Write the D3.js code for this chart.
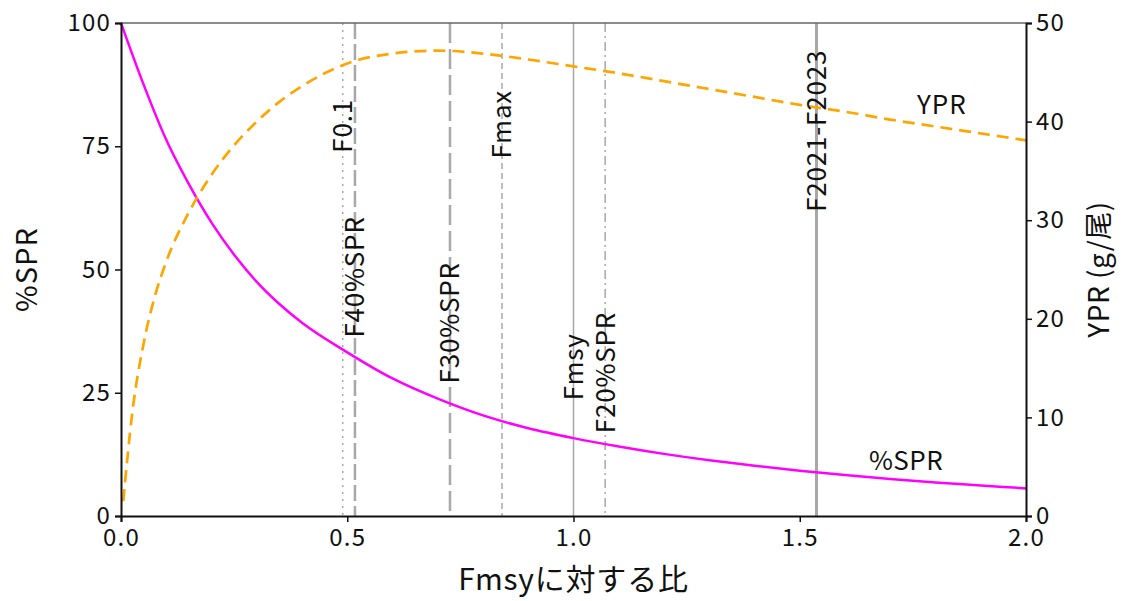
<!DOCTYPE html>
<html>
<head>
<meta charset="utf-8">
<script src="https://cdn.jsdelivr.net/npm/d3@7"></script>
<style>
  body { margin: 0; background: #fff; }
  text { font-family: "Noto Sans CJK JP", "Noto Sans", sans-serif; fill: #111; }
</style>
</head>
<body>
<svg id="viz-container" width="1123" height="601"></svg>
<script>
// F / Fmsy grid and curves
var spr_f   = [0, 0.05, 0.1, 0.15, 0.2, 0.25, 0.3, 0.35, 0.4, 0.5, 0.6, 0.7, 0.8, 0.9, 1.0, 1.1, 1.2, 1.3, 1.4, 1.5, 1.6, 1.7, 1.8, 1.9, 2.0];
var spr_val = [100, 87.5, 76.3, 67.3, 59.5, 53, 47.5, 43, 39.2, 33.2, 27.9, 23.8, 20.4, 17.8, 15.8, 14.1, 12.6, 11.3, 10.2, 9.2, 8.3, 7.5, 6.8, 6.2, 5.6];

var ypr_f   = [0.005, 0.025, 0.05, 0.075, 0.1, 0.15, 0.2, 0.25, 0.3, 0.35, 0.4, 0.45, 0.5, 0.6, 0.7, 0.8, 0.9, 1.0, 1.1, 1.2, 1.3, 1.4, 1.5, 1.6, 1.7, 1.8, 1.9, 2.0];
var ypr_val = [1.5, 10.5, 17.5, 22.3, 25.8, 30.8, 34.6, 37.6, 40.0, 42.0, 43.6, 44.9, 45.9, 46.9, 47.2, 46.9, 46.3, 45.6, 44.9, 44.1, 43.3, 42.5, 41.7, 41.0, 40.2, 39.5, 38.8, 38.1];

// reference points: name, F/Fmsy, line style, label bottom (in %SPR units)
var ref_names  = ["F0.1", "F40%SPR", "F30%SPR", "Fmax", "Fmsy", "F20%SPR", "F2021-F2023"];
var ref_f      = [0.49, 0.517, 0.727, 0.842, 1.0, 1.07, 1.537];
var ref_dash   = ["2,5", "16,5", "20,6", "6,4", null, "9,4,2,4", null];
var ref_width  = [1.5, 2.5, 2.5, 1.5, 1.5, 1.5, 3];
var ref_label  = [73.7, 36.2, 26.9, 72.5, 23.5, 16.8, 61.7];

var x_ticks     = [0, 0.5, 1.0, 1.5, 2.0];
var left_ticks  = [0, 25, 50, 75, 100];
var right_ticks = [0, 10, 20, 30, 40, 50];

var margin = {left: 121, right: 97, top: 23, bottom: 85}
  , width = 1123 - margin.left - margin.right
  , height = 601 - margin.top - margin.bottom;

var svg = d3.select("#viz-container");
var g = svg.append("g").attr("transform", "translate(" + margin.left + "," + margin.top + ")");

var x = d3.scaleLinear().domain([0, 2]).range([0, width]);
var yL = d3.scaleLinear().domain([0, 100]).range([height, 0]);
var yR = d3.scaleLinear().domain([0, 50]).range([height, 0]);

// reference lines
ref_names.forEach(function(name, i) {
  g.append("line")
    .attr("x1", x(ref_f[i])).attr("x2", x(ref_f[i]))
    .attr("y1", 0).attr("y2", height)
    .attr("stroke", "#a8a8a8")
    .attr("stroke-width", ref_width[i])
    .attr("stroke-dasharray", ref_dash[i]);
});

// curves
var sprLine = d3.line().x(function(d, i) { return x(spr_f[i]); }).y(function(d) { return yL(d); }).curve(d3.curveMonotoneX);
var yprLine = d3.line().x(function(d, i) { return x(ypr_f[i]); }).y(function(d) { return yR(d); }).curve(d3.curveMonotoneX);

g.append("path").attr("d", sprLine(spr_val))
  .attr("fill", "none").attr("stroke", "#ff00ff").attr("stroke-width", 2.5);
g.append("path").attr("d", yprLine(ypr_val))
  .attr("fill", "none").attr("stroke", "#ffa500").attr("stroke-width", 2.7)
  .attr("stroke-dasharray", "12,7");

// reference labels (rotated, centered on their line)
ref_names.forEach(function(name, i) {
  g.append("text")
    .attr("transform", "translate(" + x(ref_f[i]) + "," + yL(ref_label[i]) + ") rotate(-90)")
    .attr("dy", "0.36em")
    .attr("font-size", 26)
    .attr("letter-spacing", 0.8)
    .text(name);
});

// inline series labels
g.append("text").attr("x", x(1.814)).attr("y", yR(40.8)).attr("text-anchor", "middle").attr("font-size", 26).attr("letter-spacing", 1).text("YPR");
g.append("text").attr("x", x(1.735)).attr("y", yL(9.3)).attr("text-anchor", "middle").attr("font-size", 26).attr("letter-spacing", 0.5).text("%SPR");

// top spine
g.append("line").attr("x1", 0).attr("x2", width).attr("y1", 0).attr("y2", 0).attr("stroke", "#666").attr("stroke-width", 1.5);

// axes
var xAxis = g.append("g").attr("transform", "translate(0," + height + ")")
  .call(d3.axisBottom(x).tickValues(x_ticks).tickFormat(d3.format(".1f")).tickSizeOuter(0).tickSize(6).tickPadding(7));
var lAxis = g.append("g")
  .call(d3.axisLeft(yL).tickValues(left_ticks).tickSizeOuter(0).tickSize(6).tickPadding(4));
var rAxis = g.append("g").attr("transform", "translate(" + width + ",0)")
  .call(d3.axisRight(yR).tickValues(right_ticks).tickSizeOuter(0).tickSize(6).tickPadding(4));

[xAxis, lAxis, rAxis].forEach(function(a) {
  a.selectAll("path").attr("stroke", "#111").attr("stroke-width", 2);
  a.selectAll("line").attr("stroke", "#111").attr("stroke-width", 1.5);
  a.selectAll("text").attr("font-size", 24).attr("font-family", null).attr("fill", "#111").attr("letter-spacing", 1.2);
});

// axis titles
svg.append("text").attr("x", margin.left + width / 2).attr("y", 590).attr("text-anchor", "middle")
  .attr("font-size", 30).attr("letter-spacing", 0.8).text("Fmsyに対する比");
svg.append("text").attr("transform", "translate(27," + (margin.top + height / 2) + ") rotate(-90)")
  .attr("text-anchor", "middle").attr("dy", "0.36em").attr("font-size", 29).attr("letter-spacing", 1).text("%SPR");
svg.append("text").attr("transform", "translate(1099," + (margin.top + height / 2) + ") rotate(-90)")
  .attr("text-anchor", "middle").attr("dy", "0.36em").attr("font-size", 28).attr("letter-spacing", 0.5).text("YPR (g/尾)");
</script>
</body>
</html>
